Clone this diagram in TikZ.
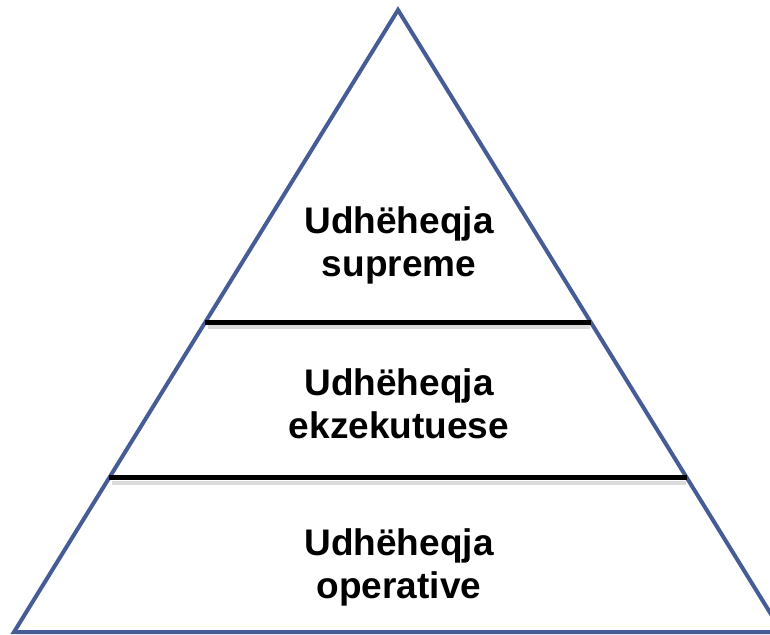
\documentclass[tikz,border=0pt]{standalone}
\usepackage{fontspec}
\setmainfont{Liberation Sans}
\usetikzlibrary{calc}
\definecolor{triblue}{RGB}{70,92,150}
\begin{document}
\begin{tikzpicture}[x=1pt,y=-1pt,
  tri/.style={draw=triblue,line width=4pt,line join=miter},
  divider/.style={draw=black,line width=5pt},
  dshadow/.style={draw=black!40,line width=4pt,opacity=0.35},
  lbl/.style={font=\bfseries\fontsize{37}{43}\selectfont,align=center,inner sep=0pt,anchor=north}]
\useasboundingbox (0,0) rectangle (770,634);
\coordinate (apex) at (398,10);
\coordinate (bl) at (14,632);
\coordinate (br) at (782,632);
\draw[tri] (apex) -- (bl) -- (br) -- cycle;
\coordinate (u1) at ($(apex)!0.5016!(bl)$);
\coordinate (u2) at ($(apex)!0.5016!(br)$);
\coordinate (l1) at ($(apex)!0.7524!(bl)$);
\coordinate (l2) at ($(apex)!0.7524!(br)$);
\draw[dshadow] ($(u1)+(3,5)$) -- ($(u2)+(-1,5)$);
\draw[dshadow] ($(l1)+(3,5)$) -- ($(l2)+(-1,5)$);
\draw[divider] (u1) -- (u2);
\draw[divider] (l1) -- (l2);
\node[lbl] (t1) at (399,206) {Udhëheqja\\supreme};
\node[lbl] (t2) at (399,368) {Udhëheqja\\ekzekutuese};
\node[lbl] (t3) at (399,528) {Udhëheqja\\operative};
\end{tikzpicture}
\end{document}
